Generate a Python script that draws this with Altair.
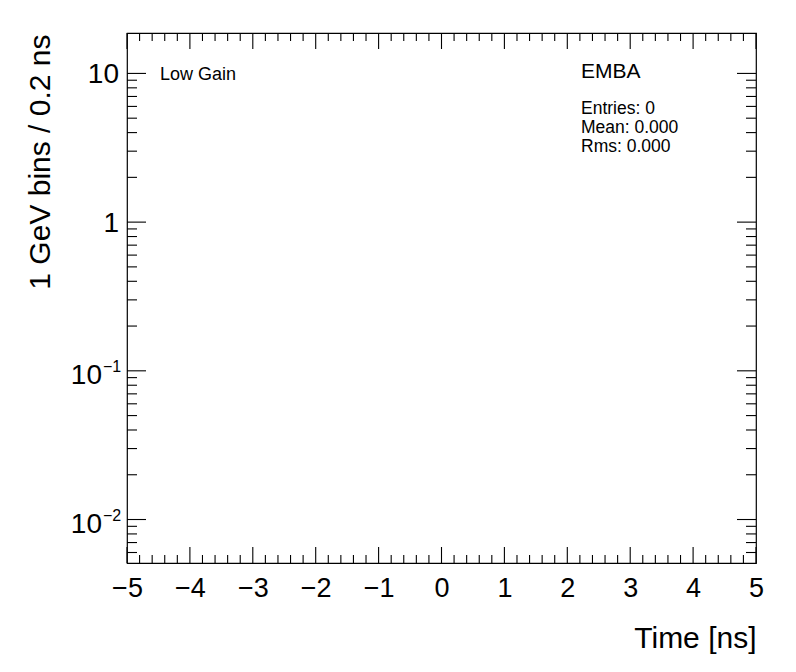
import altair as alt
import pandas as pd

# ---- data ----
x_domain = [-5, 5]
y_domain = [0.0051, 18.7]
x_major = [-5, -4, -3, -2, -1, 0, 1, 2, 3, 4, 5]
x_minor = [-4.8, -4.6, -4.4, -4.2, -3.8, -3.6, -3.4, -3.2, -2.8, -2.6, -2.4, -2.2,
           -1.8, -1.6, -1.4, -1.2, -0.8, -0.6, -0.4, -0.2, 0.2, 0.4, 0.6, 0.8,
           1.2, 1.4, 1.6, 1.8, 2.2, 2.4, 2.6, 2.8, 3.2, 3.4, 3.6, 3.8,
           4.2, 4.4, 4.6, 4.8]
y_major = [0.01, 0.1, 1, 10]
y_minor = [0.006, 0.007, 0.008, 0.009,
           0.02, 0.03, 0.04, 0.05, 0.06, 0.07, 0.08, 0.09,
           0.2, 0.3, 0.4, 0.5, 0.6, 0.7, 0.8, 0.9,
           2, 3, 4, 5, 6, 7, 8, 9]
y_plain_labels = [10, 1]
y_plain_text = ["10", "1"]
y_exp_labels = [0.1, 0.01]
y_exp_text = ["\u22121", "\u22122"]
hist_title = "EMBA"
gain_text = "Low Gain"
entries = 0
mean = 0.000
rms = 0.000

W, H = 629, 530
FONT = "Liberation Sans"

xscale = alt.Scale(domain=x_domain, nice=False, zero=False)
yscale = alt.Scale(type="log", domain=y_domain, nice=False)

xaxis = alt.Axis(values=x_major, ticks=False, domain=False, grid=False,
                 labelFont=FONT, labelFontSize=27, labelColor="black",
                 labelPadding=12, labelFlush=False, labelOverlap=False,
                 title="Time [ns]", titleFont=FONT, titleFontSize=30,
                 titleFontWeight="normal", titleColor="black",
                 titleAlign="right", titleBaseline="alphabetic",
                 titleX=W, titleY=84)
yaxis = alt.Axis(labels=False, ticks=False, domain=False, grid=False,
                 title="1 GeV bins / 0.2 ns", titleFont=FONT, titleFontSize=30,
                 titleFontWeight="normal", titleColor="black",
                 titleAngle=270, titleAlign="right", titleBaseline="alphabetic",
                 titleX=-78, titleY=1)

dfxM = pd.DataFrame({"x": x_major})
dfxm = pd.DataFrame({"x": x_minor})
dfyM = pd.DataFrame({"y": y_major})
dfym = pd.DataFrame({"y": y_minor})

def xticks(df, y0, y1):
    return alt.Chart(df).mark_rule(color="black", strokeWidth=1.1).encode(
        x=alt.X("x:Q", scale=xscale, axis=xaxis),
        y=alt.value(y0), y2=alt.value(y1))

def yticks(df, x0, x1):
    return alt.Chart(df).mark_rule(color="black", strokeWidth=1.1).encode(
        y=alt.Y("y:Q", scale=yscale, axis=yaxis),
        x=alt.value(x0), x2=alt.value(x1))

layers = [
    xticks(dfxM, H, H - 16), xticks(dfxM, 0, 16),
    xticks(dfxm, H, H - 8), xticks(dfxm, 0, 8),
    yticks(dfyM, 0, 19), yticks(dfyM, W, W - 19),
    yticks(dfym, 0, 10), yticks(dfym, W, W - 10),
]

plain = alt.Chart(pd.DataFrame({"y": y_plain_labels, "t": y_plain_text})).mark_text(
    align="right", baseline="alphabetic", font=FONT, fontSize=28, color="black", dy=10
).encode(y=alt.Y("y:Q", scale=yscale, axis=yaxis), x=alt.value(-8), text="t:N")

exp_base = alt.Chart(pd.DataFrame({"y": y_exp_labels, "t": ["10", "10"]})).mark_text(
    align="right", baseline="alphabetic", font=FONT, fontSize=28, color="black", dy=13
).encode(y=alt.Y("y:Q", scale=yscale, axis=yaxis), x=alt.value(-25), text="t:N")

exp_sup = alt.Chart(pd.DataFrame({"y": y_exp_labels, "t": y_exp_text})).mark_text(
    align="left", baseline="alphabetic", font=FONT, fontSize=16, color="black", dy=1
).encode(y=alt.Y("y:Q", scale=yscale, axis=yaxis), x=alt.value(-24), text="t:N")

ann_text = [gain_text, hist_title, f"Entries: {entries}", f"Mean: {mean:.3f}", f"Rms: {rms:.3f}"]

def note(text, x, y, size):
    return alt.Chart(pd.DataFrame({"t": [text]})).mark_text(
        align="left", baseline="alphabetic", font=FONT, fontSize=size, color="black"
    ).encode(x=alt.value(x), y=alt.value(y), text="t:N")

notes = [
    note(ann_text[0], 33, 47, 18),
    note(ann_text[1], 454, 45, 21),
    note(ann_text[2], 454, 80.5, 17.5),
    note(ann_text[3], 454, 99.5, 17.5),
    note(ann_text[4], 454, 118.5, 17.5),
]

chart = alt.layer(*layers, plain, exp_base, exp_sup, *notes).properties(
    width=W, height=H,
    autosize=alt.AutoSizeParams(type="none"),
    padding={"left": 119, "top": 25, "right": 32, "bottom": 95},
    background="white",
).configure_view(stroke="black", strokeWidth=1.2, fill="white")

chart.save("out.html", embed_options={"renderer": "svg", "actions": False})
